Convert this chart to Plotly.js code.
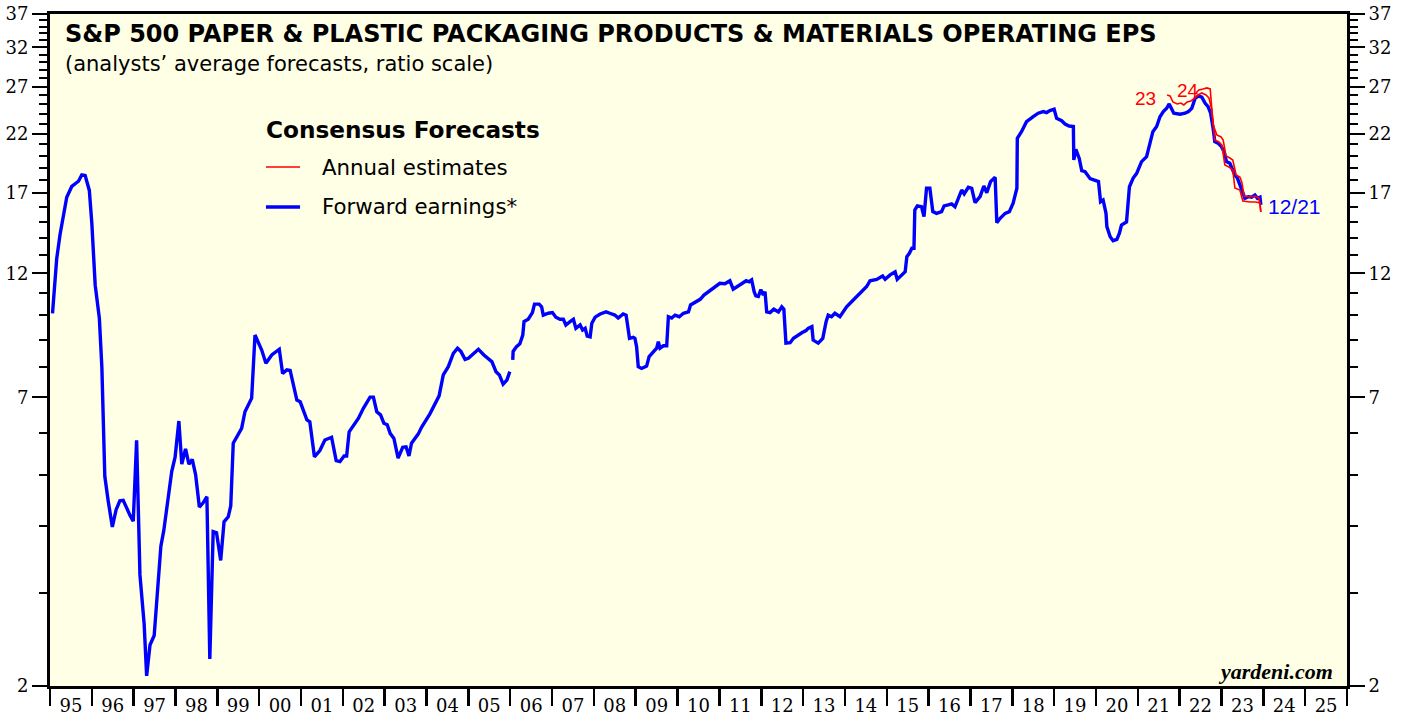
<!DOCTYPE html>
<html><head><meta charset="utf-8">
<script src="https://cdn.plot.ly/plotly-3.0.1.min.js"></script>
<style>html,body{margin:0;padding:0;background:#fff}#chart{width:1405px;height:717px}</style>
</head><body><div id="chart"></div>
<script>
// Forward earnings (decimal year, EPS)
const fwdYears = [1995.06,1995.16,1995.24,1995.40,1995.52,1995.68,1995.76,1995.84,1995.94,1996.00,1996.08,1996.18,1996.24,1996.31,1996.39,1996.49,1996.58,1996.67,1996.75,1996.83,1996.91,1996.99,1997.07,1997.15,1997.25,1997.31,1997.39,1997.49,1997.55,1997.65,1997.72,1997.83,1997.91,1997.99,1998.08,1998.15,1998.24,1998.32,1998.40,1998.48,1998.57,1998.66,1998.75,1998.82,1998.90,1998.98,1999.08,1999.16,1999.26,1999.32,1999.38,1999.58,1999.66,1999.82,1999.90,2000.06,2000.16,2000.30,2000.48,2000.56,2000.66,2000.74,2000.90,2000.98,2001.14,2001.21,2001.32,2001.45,2001.57,2001.73,2001.84,2001.93,2002.03,2002.09,2002.15,2002.37,2002.49,2002.65,2002.73,2002.81,2002.90,2002.98,2003.06,2003.13,2003.22,2003.32,2003.43,2003.51,2003.58,2003.64,2003.80,2003.88,2004.08,2004.30,2004.40,2004.52,2004.64,2004.74,2004.82,2004.92,2005.00,2005.12,2005.24,2005.37,2005.44,2005.56,2005.66,2005.74,2005.83,2005.92,2005.99,2006.02,2006.06,2006.07,2006.15,2006.23,2006.30,2006.33,2006.43,2006.53,2006.58,2006.69,2006.75,2006.79,2006.91,2007.01,2007.09,2007.19,2007.27,2007.33,2007.43,2007.51,2007.57,2007.67,2007.73,2007.79,2007.84,2007.91,2007.95,2008.03,2008.15,2008.29,2008.38,2008.50,2008.58,2008.70,2008.77,2008.85,2008.94,2008.98,2009.02,2009.06,2009.14,2009.26,2009.32,2009.42,2009.50,2009.54,2009.58,2009.66,2009.74,2009.78,2009.86,2009.94,2010.04,2010.14,2010.26,2010.31,2010.46,2010.54,2010.63,2010.77,2010.92,2011.01,2011.13,2011.25,2011.33,2011.43,2011.53,2011.64,2011.71,2011.77,2011.83,2011.87,2011.93,2011.99,2012.05,2012.09,2012.13,2012.21,2012.30,2012.41,2012.49,2012.54,2012.59,2012.69,2012.77,2012.87,2012.97,2013.07,2013.12,2013.21,2013.24,2013.36,2013.47,2013.55,2013.60,2013.68,2013.76,2013.88,2014.04,2014.20,2014.36,2014.52,2014.60,2014.76,2014.90,2014.96,2015.08,2015.20,2015.25,2015.36,2015.44,2015.48,2015.54,2015.60,2015.65,2015.67,2015.73,2015.83,2015.89,2015.95,2016.03,2016.10,2016.19,2016.31,2016.37,2016.47,2016.55,2016.63,2016.71,2016.79,2016.85,2016.95,2017.03,2017.11,2017.23,2017.32,2017.39,2017.48,2017.59,2017.63,2017.71,2017.83,2017.93,2018.02,2018.11,2018.12,2018.22,2018.34,2018.50,2018.62,2018.74,2018.82,2018.90,2019.00,2019.06,2019.18,2019.26,2019.36,2019.46,2019.47,2019.52,2019.60,2019.66,2019.74,2019.86,2019.98,2020.06,2020.11,2020.17,2020.24,2020.26,2020.34,2020.41,2020.50,2020.56,2020.61,2020.73,2020.80,2020.89,2020.97,2021.09,2021.21,2021.27,2021.36,2021.45,2021.53,2021.61,2021.69,2021.75,2021.81,2021.86,2022.01,2022.13,2022.21,2022.29,2022.37,2022.45,2022.53,2022.61,2022.68,2022.74,2022.80,2022.84,2022.92,2023.00,2023.06,2023.12,2023.20,2023.26,2023.32,2023.38,2023.44,2023.51,2023.56,2023.64,2023.72,2023.80,2023.86,2023.92,2023.94];
const fwdValues = [10.09,12.78,14.20,16.70,17.50,17.90,18.40,18.35,17.20,14.90,11.40,9.87,7.97,4.97,4.47,3.99,4.30,4.47,4.48,4.33,4.20,4.09,5.81,3.24,2.62,2.09,2.39,2.49,2.92,3.67,3.93,4.61,5.08,5.40,6.32,5.24,5.60,5.24,5.35,5.01,4.35,4.43,4.55,2.25,3.91,3.89,3.45,4.08,4.17,4.37,5.74,6.12,6.58,6.98,9.18,8.60,8.12,8.42,8.63,7.77,7.89,7.87,6.92,6.87,6.35,6.30,5.41,5.56,5.82,5.89,5.32,5.30,5.43,5.43,6.03,6.39,6.68,7.01,7.01,6.58,6.49,6.26,6.22,5.99,5.86,5.38,5.64,5.65,5.43,5.74,5.97,6.15,6.52,7.05,7.72,8.00,8.48,8.67,8.55,8.26,8.30,8.46,8.63,8.42,8.33,8.18,7.83,7.72,7.42,7.55,7.83,null,8.24,8.55,8.73,8.84,9.18,9.73,9.83,10.12,10.50,10.50,10.38,10.01,10.09,10.12,9.92,9.83,9.83,9.59,9.73,9.83,9.45,9.59,9.38,9.45,9.14,9.11,9.66,9.92,10.06,10.15,10.09,10.01,9.88,10.06,10.01,9.05,9.09,9.05,8.73,8.00,7.94,8.02,8.36,8.55,8.67,8.92,8.67,8.76,8.76,9.94,9.88,10.01,9.94,10.09,10.15,10.46,10.61,10.72,10.92,11.13,11.36,11.49,11.47,11.62,11.20,11.33,11.47,11.62,11.57,11.66,11.08,10.88,10.85,11.18,10.92,11.08,10.15,10.12,10.27,10.15,10.38,10.27,8.86,8.88,9.05,9.18,9.27,9.36,9.45,9.52,8.98,8.86,9.05,9.73,10.01,9.94,10.09,9.94,10.38,10.69,11.00,11.33,11.62,11.69,11.86,11.69,11.92,12.08,11.69,11.92,12.08,12.90,13.09,13.38,13.38,15.80,16.08,16.02,15.35,17.36,17.36,15.69,15.57,15.69,16.08,16.16,16.22,16.02,16.55,17.23,16.94,17.44,17.36,16.31,16.74,17.53,17.03,17.87,18.21,14.95,15.24,15.57,15.69,16.27,17.36,21.57,22.20,23.18,23.70,24.05,24.22,24.12,24.32,24.47,23.52,23.28,22.95,22.75,22.70,19.63,20.56,19.77,18.74,18.66,18.10,18.00,17.87,16.38,16.50,15.57,14.70,14.07,13.83,13.91,14.28,14.80,15.00,17.48,18.15,18.50,19.49,19.91,20.80,22.20,22.70,23.68,24.22,24.57,25.04,24.57,24.05,23.94,24.05,24.22,24.57,25.66,25.92,25.78,25.11,24.74,24.05,22.53,21.26,21.10,20.80,20.35,19.49,19.35,18.94,18.39,18.15,17.57,17.11,16.62,16.74,16.70,16.86,16.62,16.70,16.15];

// Annual estimates for 2023
const est23Years = [2021.70,2021.77,2021.84,2021.94,2022.03,2022.10,2022.18,2022.27,2022.37,2022.44,2022.53,2022.63,2022.70,2022.77,2022.84,2022.94,2023.01,2023.08,2023.18,2023.27,2023.32,2023.44,2023.51,2023.68,2023.82,2023.92,2023.94];
const est23Values = [26.03,25.92,25.25,25.04,25.14,24.93,25.25,25.37,25.70,26.03,26.26,26.03,25.70,24.39,21.41,21.23,20.95,19.21,19.04,18.80,17.39,17.23,16.43,16.36,16.36,16.29,15.66];
// Annual estimates for 2024
const est24Years = [2022.39,2022.46,2022.56,2022.65,2022.73,2022.80,2022.89,2022.99,2023.04,2023.11,2023.20,2023.27,2023.35,2023.44,2023.49,2023.54,2023.68,2023.80,2023.90,2023.94];
const est24Values = [26.26,26.60,26.72,26.84,26.72,22.86,21.88,21.70,21.41,19.97,19.80,19.63,18.39,18.23,17.76,16.79,16.72,16.79,16.62,15.66];

const firstYear = 1995, lastYear = 2026;
const yearLabels = ['95','96','97','98','99','00','01','02','03','04','05','06','07','08','09','10','11','12','13','14','15','16','17','18','19','20','21','22','23','24','25'];
const yMajor = [2,7,12,17,22,27,32,37];
const yMinor = [3,4,5,6,8,9,10,11,13,14,15,16,18,19,20,21,23,24,25,26,28,29,30,31,33,34,35,36];

const yearMid = yearLabels.map((_, i) => firstYear + i + 0.5);
const serifTick = 'DejaVu Serif, Liberation Serif, serif';
const serif = 'Liberation Serif, Times New Roman, serif';
const sans = 'DejaVu Sans, Liberation Sans, Arial, sans-serif';
const sansNarrow = 'Liberation Sans, Arial, Helvetica, sans-serif';
const yRange = [Math.log10(2), Math.log10(37)];

const yAxisCommon = {
  type: 'log', range: yRange, showgrid: false, zeroline: false,
  tickmode: 'array', tickvals: yMajor, ticktext: yMajor.map(String),
  ticks: 'outside', ticklen: 15, tickwidth: 2, tickcolor: 'black',
  tickfont: {family: serifTick, size: 18, color: 'black'},
  minor: {tickmode: 'array', tickvals: yMinor, ticks: 'outside', ticklen: 8, tickwidth: 2, tickcolor: 'black', showgrid: false},
  showline: true, linecolor: 'black', linewidth: 3, fixedrange: true
};

const traces = [
  {x: fwdYears, y: fwdValues, type: 'scatter', mode: 'lines', line: {color: '#0000ff', width: 3.4}, connectgaps: false, hoverinfo: 'skip', showlegend: false},
  {x: est23Years, y: est23Values, type: 'scatter', mode: 'lines', line: {color: '#ff0000', width: 1.6}, hoverinfo: 'skip', showlegend: false},
  {x: est24Years, y: est24Values, type: 'scatter', mode: 'lines', line: {color: '#ff0000', width: 1.6}, hoverinfo: 'skip', showlegend: false},
  {x: [fwdYears[0]], y: [fwdValues[0]], yaxis: 'y2', type: 'scatter', mode: 'lines', line: {width: 0}, hoverinfo: 'skip', showlegend: false}
];

const layout = {
  width: 1405, height: 717,
  margin: {l: 50, r: 58, t: 14, b: 31, pad: 0},
  paper_bgcolor: '#ffffff', plot_bgcolor: '#ffffe6',
  showlegend: false,
  xaxis: {
    range: [firstYear, lastYear], showgrid: false, zeroline: false,
    showline: true, linecolor: 'black', linewidth: 3, mirror: true,
    tickmode: 'array', tickvals: yearMid, ticktext: yearLabels, ticks: '',
    ticklabelstandoff: 1,
    tickfont: {family: serifTick, size: 18, color: 'black'},
    minor: {tickmode: 'linear', tick0: firstYear, dtick: 1, ticks: 'outside', ticklen: 17, tickwidth: 2.5, tickcolor: 'black', showgrid: false},
    fixedrange: true
  },
  yaxis: Object.assign({}, yAxisCommon, {side: 'left', mirror: true}),
  yaxis2: Object.assign({}, yAxisCommon, {side: 'right', overlaying: 'y'}),
  shapes: [
    {type: 'line', xref: 'paper', yref: 'paper', x0: 0.1665, x1: 0.1928, y0: 0.7723, y1: 0.7723, line: {color: '#ff0000', width: 1.6}},
    {type: 'line', xref: 'paper', yref: 'paper', x0: 0.1665, x1: 0.1928, y0: 0.7128, y1: 0.7128, line: {color: '#0000ff', width: 3.4}}
  ],
  annotations: [
    {xref: 'paper', yref: 'paper', x: 0.0100, y: 0.970, xanchor: 'left', yanchor: 'middle', showarrow: false,
     text: '<b>S&P 500 PAPER & PLASTIC PACKAGING PRODUCTS & MATERIALS OPERATING EPS</b>', font: {family: sans, size: 24, color: 'black'}},
    {xref: 'paper', yref: 'paper', x: 0.0100, y: 0.9256, xanchor: 'left', yanchor: 'middle', showarrow: false,
     text: '(analysts’ average forecasts, ratio scale)', font: {family: sans, size: 21, color: 'black'}},
    {xref: 'paper', yref: 'paper', x: 0.1650, y: 0.8274, xanchor: 'left', yanchor: 'middle', showarrow: false,
     text: '<b>Consensus Forecasts</b>', font: {family: sans, size: 23.2, color: 'black'}},
    {xref: 'paper', yref: 'paper', x: 0.2082, y: 0.7723, xanchor: 'left', yanchor: 'middle', showarrow: false,
     text: 'Annual estimates', font: {family: sans, size: 21.3, color: 'black'}},
    {xref: 'paper', yref: 'paper', x: 0.2082, y: 0.7128, xanchor: 'left', yanchor: 'middle', showarrow: false,
     text: 'Forward earnings*', font: {family: sans, size: 21.3, color: 'black'}},
    {xref: 'paper', yref: 'paper', x: 0.845, y: 0.875, xanchor: 'center', yanchor: 'middle', showarrow: false,
     text: '23', font: {family: sansNarrow, size: 19, color: '#ff0000'}},
    {xref: 'paper', yref: 'paper', x: 0.8774, y: 0.8869, xanchor: 'center', yanchor: 'middle', showarrow: false,
     text: '24', font: {family: sansNarrow, size: 19, color: '#ff0000'}},
    {xref: 'paper', yref: 'paper', x: 0.9375, y: 0.7128, xanchor: 'left', yanchor: 'middle', showarrow: false,
     text: '12/21', font: {family: sansNarrow, size: 21, color: '#0000ff'}},
    {xref: 'paper', yref: 'paper', x: 0.9908, y: 0.0223, xanchor: 'right', yanchor: 'middle', showarrow: false,
     text: '<b><i>yardeni.com</i></b>', font: {family: serif, size: 22, color: 'black'}}
  ]
};

Plotly.newPlot('chart', traces, layout, {displayModeBar: false, staticPlot: true});
</script>
</body></html>
